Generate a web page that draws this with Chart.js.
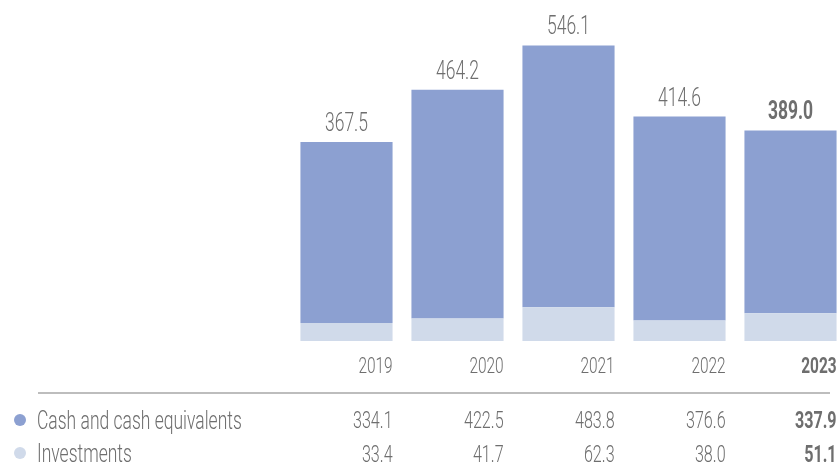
<!DOCTYPE html>
<html>
<head>
<meta charset="utf-8">
<script src="https://cdn.jsdelivr.net/npm/chart.js@4/dist/chart.umd.min.js"></script>
<style>
  html, body { margin: 0; padding: 0; background: #fff; overflow: hidden; }
  #wrap { position: relative; width: 838px; height: 463px; overflow: hidden; }
  canvas { position: absolute; left: 0; top: 0; }
</style>
</head>
<body>
<div id="wrap"><canvas id="chart" width="846" height="463"></canvas></div>
<script>
const years = ['2019', '2020', '2021', '2022', '2023'];
const cash = [334.1, 422.5, 483.8, 376.6, 337.9];
const investments = [33.4, 41.7, 62.3, 38.0, 51.1];
const totals = [367.5, 464.2, 546.1, 414.6, 389.0];

const FONT = "Roboto, 'Noto Sans', sans-serif";
const TEXT = '#6e6e6e';
const CASH_COLOR = '#8ca0d1';
const INV_COLOR = '#d0daea';
const SQUEEZE = 0.7; // fake a condensed face

function condensedText(ctx, text, x, y, size, align, bold) {
  ctx.save();
  ctx.translate(x, y);
  ctx.scale(SQUEEZE, 1);
  ctx.font = (bold ? '700 ' : '300 ') + size + 'px ' + FONT;
  ctx.textAlign = align;
  ctx.textBaseline = 'alphabetic';
  ctx.fillText(text, 0, 0);
  ctx.restore();
}

// totals, year labels and the little table below the bars
const tablePlugin = {
  id: 'tablePlugin',
  afterDatasetsDraw(chart) {
    const ctx = chart.ctx;
    const meta = chart.getDatasetMeta(1);
    const last = years.length - 1;
    ctx.save();
    ctx.fillStyle = TEXT;

    meta.data.forEach((bar, i) => {
      const bold = i === last;
      const right = bar.x + bar.width / 2;
      condensedText(ctx, totals[i].toFixed(1), bar.x, bar.y - 11, 25, 'center', bold);
      condensedText(ctx, years[i], right, 373, 22, 'right', bold);
      condensedText(ctx, cash[i].toFixed(1), right, 428, 23, 'right', bold);
      condensedText(ctx, investments[i].toFixed(1), right, 462, 23, 'right', bold);
    });

    // divider
    ctx.strokeStyle = '#bdbdbd';
    ctx.lineWidth = 2;
    ctx.beginPath();
    ctx.moveTo(38, 393);
    ctx.lineTo(830, 393);
    ctx.stroke();

    // legend rows
    const rows = [
      { label: 'Cash and cash equivalents', color: CASH_COLOR, y: 429 },
      { label: 'Investments', color: INV_COLOR, y: 462 },
    ];
    rows.forEach(r => {
      ctx.fillStyle = r.color;
      ctx.beginPath();
      ctx.arc(20, r.y - 9, 6, 0, Math.PI * 2);
      ctx.fill();
      ctx.fillStyle = TEXT;
      condensedText(ctx, r.label, 37, r.y, 25, 'left', false);
    });
    ctx.restore();
  },
};

new Chart(document.getElementById('chart'), {
  type: 'bar',
  data: {
    labels: years,
    datasets: [
      {
        label: 'Investments',
        data: investments,
        backgroundColor: INV_COLOR,
        categoryPercentage: 1,
        barPercentage: 0.83,
      },
      {
        label: 'Cash and cash equivalents',
        data: cash,
        backgroundColor: CASH_COLOR,
        categoryPercentage: 1,
        barPercentage: 0.83,
      },
    ],
  },
  options: {
    responsive: false,
    animation: false,
    layout: { padding: { left: 291, right: 0, top: 0, bottom: 122 } },
    plugins: {
      legend: { display: false },
      tooltip: { enabled: false },
    },
    scales: {
      x: { stacked: true, display: false },
      y: { stacked: true, display: false, min: 0, max: 630 },
    },
  },
  plugins: [tablePlugin],
});
</script>
</body>
</html>
